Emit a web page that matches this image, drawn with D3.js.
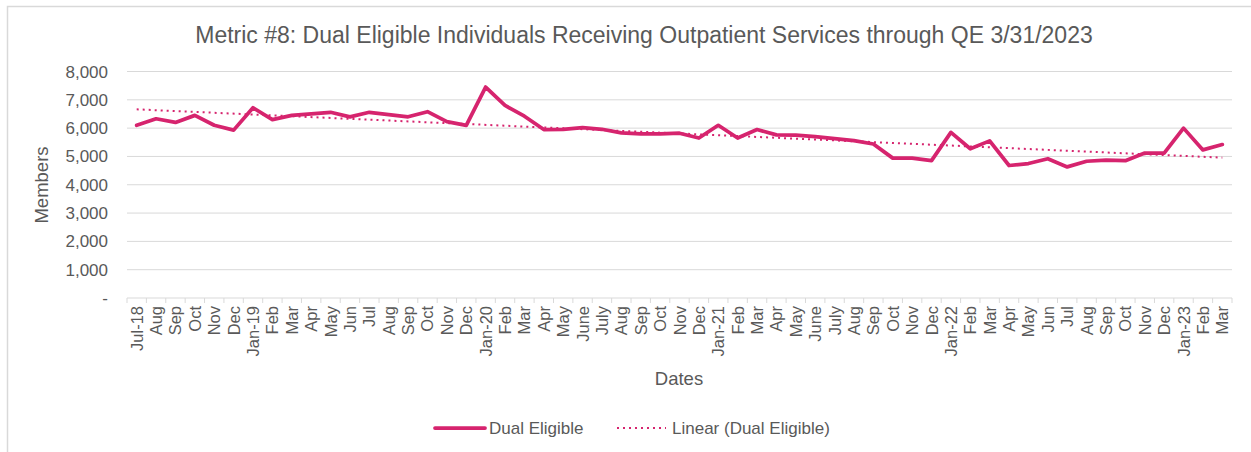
<!DOCTYPE html>
<html>
<head>
<meta charset="utf-8">
<script src="https://cdn.jsdelivr.net/npm/d3@7"></script>
<style>
  body { margin: 0; background: #fff; }
  svg text { font-family: "Liberation Sans", Arial, sans-serif; fill: #595959; }
</style>
</head>
<body>
<div id="chart"></div>
<script>
// months shown on the x axis
var months = ["Jul-18","Aug","Sep","Oct","Nov","Dec",
  "Jan-19","Feb","Mar","Apr","May","Jun","Jul","Aug","Sep","Oct","Nov","Dec",
  "Jan-20","Feb","Mar","Apr","May","June","July","Aug","Sep","Oct","Nov","Dec",
  "Jan-21","Feb","Mar","Apr","May","June","July","Aug","Sep","Oct","Nov","Dec",
  "Jan-22","Feb","Mar","Apr","May","Jun","Jul","Aug","Sep","Oct","Nov","Dec",
  "Jan-23","Feb","Mar"];

// Dual Eligible members per month
var dualEligible = [6100,6330,6200,6450,6100,5930,
  6720,6300,6450,6500,6560,6400,6560,6480,6400,6580,6230,6100,
  7450,6800,6420,5950,5960,6020,5960,5830,5800,5800,5820,5650,
  6100,5650,5950,5760,5750,5700,5630,5560,5440,4940,4940,4850,
  5850,5270,5550,4680,4750,4920,4630,4830,4870,4850,5120,5120,
  6000,5230,5420];

var yTicks = [0,1000,2000,3000,4000,5000,6000,7000,8000];

var width = 1251, height = 452;
var margin = {top: 71.5, left: 127, right: 19, bottom: 154};

var svg = d3.select("#chart").append("svg")
  .attr("width", width)
  .attr("height", height);

// outer chart frame (runs off the right/bottom edge)
svg.append("rect")
  .attr("x", 7.5).attr("y", 6.5)
  .attr("width", width).attr("height", height)
  .attr("fill", "none")
  .attr("stroke", "#d9d9d9")
  .attr("stroke-width", 1.5);

var plotW = width - margin.left - margin.right;
var plotH = height - margin.top - margin.bottom;

var x = d3.scaleBand()
  .domain(d3.range(months.length))
  .range([margin.left, margin.left + plotW]);

var y = d3.scaleLinear()
  .domain([0, 8000])
  .range([margin.top + plotH, margin.top]);

// gridlines
svg.append("g")
  .selectAll("line")
  .data(yTicks.filter(d => d > 0))
  .enter().append("line")
  .attr("x1", margin.left).attr("x2", margin.left + plotW)
  .attr("y1", d => y(d)).attr("y2", d => y(d))
  .attr("stroke", "#d9d9d9")
  .attr("stroke-width", 1);

// y axis labels
svg.append("g")
  .selectAll("text")
  .data(yTicks)
  .enter().append("text")
  .attr("x", 108)
  .attr("y", d => y(d) + 6)
  .attr("text-anchor", "end")
  .style("font-size", "17px")
  .text(d => d === 0 ? "-" : d3.format(",")(d));

// x axis line + ticks between categories
var axisY = y(0);
svg.append("line")
  .attr("x1", margin.left).attr("x2", margin.left + plotW)
  .attr("y1", axisY).attr("y2", axisY)
  .attr("stroke", "#d9d9d9");

svg.append("g")
  .selectAll("line")
  .data(d3.range(months.length + 1))
  .enter().append("line")
  .attr("x1", d => margin.left + d * x.step())
  .attr("x2", d => margin.left + d * x.step())
  .attr("y1", axisY).attr("y2", axisY + 5)
  .attr("stroke", "#d9d9d9");

// x labels, rotated
svg.append("g")
  .selectAll("text")
  .data(months)
  .enter().append("text")
  .attr("transform", (d, i) => "translate(" + (x(i) + x.bandwidth() / 2 + 6) + "," + (axisY + 8) + ") rotate(-90)")
  .attr("text-anchor", "end")
  .style("font-size", "16.5px")
  .text(d => d);

// linear trend (least squares on the series, as the spreadsheet does)
var n = dualEligible.length;
var xs = d3.range(n);
var mx = d3.mean(xs), my = d3.mean(dualEligible);
var slope = d3.sum(xs, i => (i - mx) * (dualEligible[i] - my)) / d3.sum(xs, i => (i - mx) * (i - mx));
var icpt = my - slope * mx;

var cx = i => x(i) + x.bandwidth() / 2;

svg.append("line")
  .attr("x1", cx(0)).attr("y1", y(icpt))
  .attr("x2", cx(n - 1)).attr("y2", y(icpt + slope * (n - 1)))
  .attr("stroke", "#d6246e")
  .attr("stroke-width", 2)
  .attr("stroke-dasharray", "2,4")
  .attr("stroke-linecap", "butt");

var line = d3.line()
  .x((d, i) => cx(i))
  .y(d => y(d));

svg.append("path")
  .datum(dualEligible)
  .attr("d", line)
  .attr("fill", "none")
  .attr("stroke", "#d6246e")
  .attr("stroke-width", 3.75)
  .attr("stroke-linejoin", "round")
  .attr("stroke-linecap", "round");

// title
svg.append("text")
  .attr("x", 644).attr("y", 43)
  .attr("text-anchor", "middle")
  .style("font-size", "23px")
  .text("Metric #8: Dual Eligible Individuals Receiving Outpatient Services through QE 3/31/2023");

// axis titles
svg.append("text")
  .attr("transform", "translate(48,185) rotate(-90)")
  .attr("text-anchor", "middle")
  .style("font-size", "18.5px")
  .text("Members");

svg.append("text")
  .attr("x", 679).attr("y", 385)
  .attr("text-anchor", "middle")
  .style("font-size", "18.5px")
  .text("Dates");

// legend
var leg = svg.append("g");
leg.append("line")
  .attr("x1", 435).attr("x2", 485).attr("y1", 428).attr("y2", 428)
  .attr("stroke", "#d6246e").attr("stroke-width", 3.75).attr("stroke-linecap", "round");
leg.append("text")
  .attr("x", 489).attr("y", 434)
  .style("font-size", "17px")
  .text("Dual Eligible");
leg.append("line")
  .attr("x1", 617).attr("x2", 666).attr("y1", 428).attr("y2", 428)
  .attr("stroke", "#d6246e").attr("stroke-width", 2).attr("stroke-dasharray", "2,4");
leg.append("text")
  .attr("x", 672).attr("y", 434)
  .style("font-size", "17px")
  .text("Linear (Dual Eligible)");
</script>
</body>
</html>
